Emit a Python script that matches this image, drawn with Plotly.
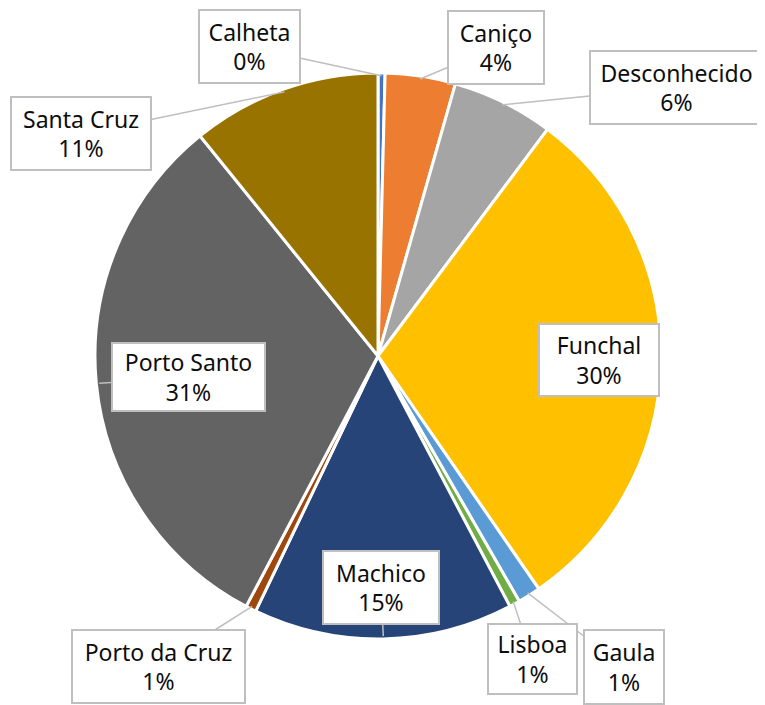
import numpy as np
import plotly.graph_objects as go

labels = ['Calheta', 'Caniço', 'Desconhecido', 'Funchal', 'Gaula', 'Lisboa',
          'Machico', 'Porto da Cruz', 'Porto Santo', 'Santa Cruz']
values = [0.4, 4.0, 5.8, 30.1, 1.3, 0.6, 14.8, 0.6, 31.4, 10.8]
colors = ['#4472C4', '#ED7D31', '#A5A5A5', '#FFC000', '#5B9BD5', '#70AD47',
          '#264478', '#9E480E', '#636363', '#997300']

W, H = 765, 705
OFF = 8  # page body margin
cx, cy, R = 378 - OFF, 356 - OFF, 283

# callout boxes: centre x, centre y, width, height (pixels in the screenshot)
boxes = {
    'Calheta': (249, 47, 103, 75),
    'Caniço': (496, 47, 98, 75),
    'Desconhecido': (676, 87, 175, 75),
    'Funchal': (599, 360, 122, 74),
    'Gaula': (624, 667, 82, 76),
    'Lisboa': (532, 659, 91, 72),
    'Machico': (381, 587, 118, 75),
    'Porto da Cruz': (158, 666, 175, 75),
    'Porto Santo': (188, 377, 155, 70),
    'Santa Cruz': (81, 134, 142, 75),
}

fig = go.Figure(go.Pie(
    labels=labels,
    values=values,
    sort=False,
    direction='clockwise',
    rotation=0,
    marker=dict(colors=colors, line=dict(color='white', width=3)),
    textinfo='none',
    hoverinfo='label+percent',
    domain=dict(x=[(cx - R) / W, (cx + R) / W], y=[1 - (cy + R) / H, 1 - (cy - R) / H]),
))

total = sum(values)
start = 0.0
for lab, v in zip(labels, values):
    mid = (start + v / 2) / total * 2 * np.pi
    start += v
    hx = cx + 0.99 * R * np.sin(mid)
    hy = cy - 0.99 * R * np.cos(mid)
    bx, by, bw, bh = boxes[lab]
    bx, by = bx - OFF, by - OFF
    fig.add_annotation(
        x=hx / W, y=1 - hy / H, xref='paper', yref='paper',
        ax=bx - hx, ay=by - hy,
        text=f'{lab}<br>{round(v / total * 100):.0f}%',
        showarrow=True, arrowhead=0, arrowwidth=1.5, arrowcolor='#BFBFBF',
        bgcolor='white', bordercolor='#BFBFBF', borderwidth=2, borderpad=0,
        width=bw - 4, height=bh - 4,
        font=dict(family='Noto Sans', size=23, color='#0D0D0D'),
    )

fig.update_layout(
    width=W, height=H,
    margin=dict(l=0, r=0, t=0, b=0),
    showlegend=False,
    paper_bgcolor='white',
)

fig.write_html('out.html')
